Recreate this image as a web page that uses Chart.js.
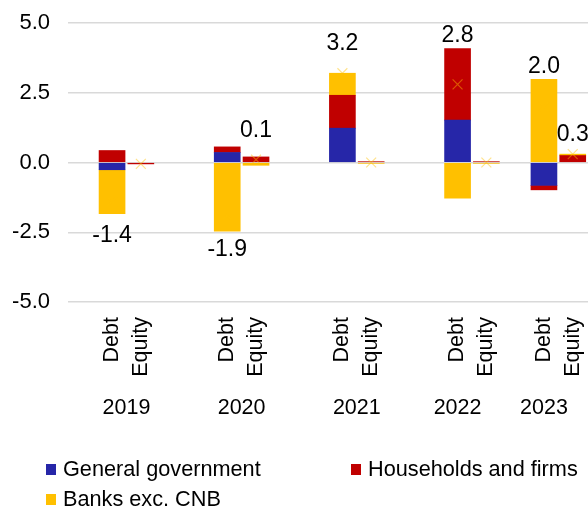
<!DOCTYPE html>
<html>
<head>
<meta charset="utf-8">
<script src="https://cdn.jsdelivr.net/npm/chart.js@4.4.1/dist/chart.umd.min.js"></script>
<style>
  html, body { margin: 0; padding: 0; background: #fff; }
  #wrap { position: relative; width: 588px; height: 507px; }
  #legend {
    position: absolute; left: 46px; top: 454px;
    display: grid; grid-template-columns: 305px auto; grid-auto-rows: 30px;
    font: 21.7px "Liberation Sans", Arial, sans-serif; color: #000;
  }
  #legend .item { display: flex; align-items: center; white-space: nowrap; }
  #legend .box { width: 10px; height: 11px; margin-right: 7px; }
</style>
</head>
<body>
<div id="wrap">
  <canvas id="chart" width="588" height="507"></canvas>
  <div id="legend"></div>
</div>
<script>
// Bars sit at slot positions on a linear x axis; empty slots give the gaps between years
const slots = [1, 2, 5, 6, 9, 10, 13, 14, 16, 17];
const parts = ["Debt", "Equity", "Debt", "Equity", "Debt", "Equity", "Debt", "Equity", "Debt", "Equity"];
const years = ["2019", "2020", "2021", "2022", "2023"];
const yearAt = [1.5, 5.5, 9.5, 13, 16];

const government = [-0.26, null, 0.36, null, 1.23, null, 1.52, null, -0.82, null];
const households = [0.43, -0.05, 0.2, 0.2, 1.18, 0.03, 2.56, 0.03, -0.16, 0.25];
const banks = [-1.57, null, -2.46, -0.1, 0.79, -0.03, -1.28, -0.03, 2.98, 0.05];
const net = [-1.4, -0.05, -1.9, 0.1, 3.2, 0, 2.8, 0, 2.0, 0.3];
const netLabelled = [true, false, true, true, true, false, true, false, true, true];

const FONT = '"Liberation Sans", Arial, sans-serif';
const pts = arr => slots.map((x, i) => ({ x, y: arr[i] }));

// net value labels, placed just past the end of each stack
const netLabels = {
    id: "netLabels",
    afterDatasetsDraw(chart, args, opts) {
        const { ctx } = chart;
        const xs = chart.scales.x, ys = chart.scales.y;
        const bars = chart.data.datasets.filter(d => d.type !== "line");
        ctx.save();
        ctx.font = `23px ${FONT}`;
        ctx.fillStyle = "#000";
        ctx.textAlign = "center";
        ctx.textBaseline = "middle";
        net.forEach((v, i) => {
            if (!netLabelled[i]) return;
            let pos = 0, neg = 0;
            bars.forEach(d => { const y = d.data[i].y || 0; if (y > 0) pos += y; else neg += y; });
            const gap = opts.gaps[i];
            const y = v >= 0 ? ys.getPixelForValue(pos) - gap : ys.getPixelForValue(neg) + gap;
            ctx.fillText(v.toFixed(1), xs.getPixelForValue(slots[i]), y);
        });
        ctx.restore();
    }
};

const htmlLegend = {
    id: "htmlLegend",
    afterUpdate(chart) {
        const el = document.getElementById("legend");
        el.innerHTML = "";
        chart.data.datasets.filter(d => d.type !== "line").forEach(d => {
            el.innerHTML += `<div class="item"><span class="box" style="background:${d.backgroundColor}"></span>${d.label}</div>`;
        });
    }
};

// fixed axis sizes; drop the label padding so the plot area keeps its edges
const fixBottom = h => s => { s.height = h; s.paddingLeft = 0; s.paddingRight = 0; };
const fixLeft = w => s => { s.width = w; s.paddingTop = 0; s.paddingBottom = 0; };

new Chart(document.getElementById("chart"), {
    data: {
        datasets: [
            { type: "bar", label: "General government", data: pts(government), backgroundColor: "#2626A8", barThickness: 26, order: 1 },
            { type: "bar", label: "Households and firms", data: pts(households), backgroundColor: "#C00000", barThickness: 26, order: 1 },
            { type: "bar", label: "Banks exc. CNB", data: pts(banks), backgroundColor: "#FFC000", barThickness: 26, order: 1 },
            {
                type: "line", label: "Net", data: pts(net), stack: "net", showLine: false, order: 0,
                pointStyle: "crossRot", pointRadius: 7, pointBorderWidth: 1.2,
                pointBorderColor: "rgba(255,192,0,0.45)", pointBackgroundColor: "transparent"
            }
        ]
    },
    options: {
        responsive: false,
        animation: false,
        devicePixelRatio: 1,
        events: [],
        layout: { autoPadding: false, padding: { top: 23, right: 0, bottom: 79, left: 0 } },
        plugins: {
            legend: { display: false },
            tooltip: { enabled: false },
            netLabels: { gaps: [22, 0, 19, 26, 30, 0, 13, 0, 13, 19] }
        },
        scales: {
            x: {
                type: "linear", offset: false, min: -0.53, max: 17.53, stacked: true, weight: 0,
                grid: { display: false, drawTicks: false }, border: { display: false },
                afterBuildTicks: s => { s.ticks = slots.map(v => ({ value: v })); },
                afterFit: fixBottom(86),
                ticks: {
                    autoSkip: false, minRotation: 90, maxRotation: 90, padding: 15,
                    color: "#000", font: { family: FONT, size: 21.5 },
                    callback: (v, i) => parts[i]
                }
            },
            xYear: {
                type: "linear", position: "bottom", offset: false, min: -0.53, max: 17.53, weight: 1,
                grid: { display: false, drawTicks: false }, border: { display: false },
                afterBuildTicks: s => { s.ticks = yearAt.map(v => ({ value: v })); },
                afterFit: fixBottom(40),
                ticks: {
                    autoSkip: false, maxRotation: 0, padding: 7,
                    color: "#000", font: { family: FONT, size: 21.5 },
                    callback: (v, i) => years[i]
                }
            },
            y: {
                min: -5, max: 5, stacked: true,
                border: { display: false },
                grid: { color: "#D9D9D9", lineWidth: 1.5, drawTicks: false },
                afterFit: fixLeft(68),
                ticks: {
                    stepSize: 2.5, padding: 18, color: "#000",
                    font: { family: FONT, size: 22 },
                    callback: v => v.toFixed(1)
                }
            }
        }
    },
    plugins: [netLabels, htmlLegend]
});
</script>
</body>
</html>
